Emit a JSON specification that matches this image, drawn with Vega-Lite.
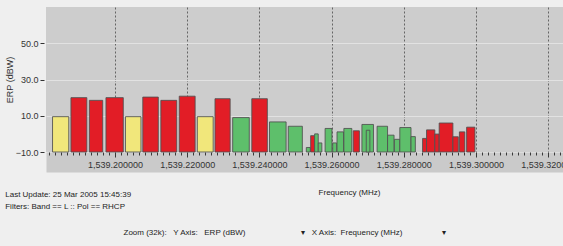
{
  "$schema": "https://vega.github.io/schema/vega-lite/v6.json",
  "width": 517,
  "height": 145,
  "autosize": {"type": "none"},
  "padding": {"left": 46, "top": 7, "right": 0, "bottom": 94},
  "background": "#efefef",
  "config": {
    "view": {"fill": "#cdcdcd", "stroke": null},
    "font": "Liberation Sans"
  },
  "title": {
    "text": "Last Update: 25 Mar 2005 15:45:39",
    "subtitle": "Filters: Band == L :: Pol == RHCP",
    "orient": "bottom",
    "anchor": "start",
    "frame": "bounds",
    "fontSize": 8,
    "fontWeight": "normal",
    "subtitleFontSize": 8,
    "color": "#222",
    "subtitleColor": "#222",
    "subtitlePadding": 4,
    "offset": -45
  },
  "data": {
    "values": [
      {"f0": 1539.1827, "f1": 1539.1872, "erp": 9.5, "status": "warning"},
      {"f0": 1539.1878, "f1": 1539.1922, "erp": 20, "status": "alarm"},
      {"f0": 1539.1929, "f1": 1539.1966, "erp": 18.5, "status": "alarm"},
      {"f0": 1539.1975, "f1": 1539.2023, "erp": 20, "status": "alarm"},
      {"f0": 1539.2029, "f1": 1539.2072, "erp": 9.5, "status": "warning"},
      {"f0": 1539.2077, "f1": 1539.2120, "erp": 20.3, "status": "alarm"},
      {"f0": 1539.2127, "f1": 1539.2171, "erp": 18.5, "status": "alarm"},
      {"f0": 1539.2178, "f1": 1539.2222, "erp": 20.8, "status": "alarm"},
      {"f0": 1539.2228, "f1": 1539.2272, "erp": 9.5, "status": "warning"},
      {"f0": 1539.2277, "f1": 1539.2319, "erp": 19.4, "status": "alarm"},
      {"f0": 1539.2326, "f1": 1539.2372, "erp": 9, "status": "normal"},
      {"f0": 1539.2379, "f1": 1539.2422, "erp": 19.4, "status": "alarm"},
      {"f0": 1539.2428, "f1": 1539.2474, "erp": 6.6, "status": "normal"},
      {"f0": 1539.2480, "f1": 1539.2519, "erp": 4.2, "status": "normal"},
      {"f0": 1539.2530, "f1": 1539.2541, "erp": -7.5, "status": "normal"},
      {"f0": 1539.2542, "f1": 1539.2553, "erp": -1, "status": "alarm"},
      {"f0": 1539.2553, "f1": 1539.2563, "erp": 0, "status": "normal"},
      {"f0": 1539.2563, "f1": 1539.2573, "erp": -5, "status": "normal"},
      {"f0": 1539.2582, "f1": 1539.2601, "erp": 3, "status": "normal"},
      {"f0": 1539.2603, "f1": 1539.2614, "erp": -5, "status": "normal"},
      {"f0": 1539.2615, "f1": 1539.2633, "erp": 1.1, "status": "normal"},
      {"f0": 1539.2634, "f1": 1539.2656, "erp": 3, "status": "normal"},
      {"f0": 1539.2660, "f1": 1539.2677, "erp": 1.7, "status": "alarm"},
      {"f0": 1539.2684, "f1": 1539.2716, "erp": 5.2, "status": "normal"},
      {"f0": 1539.2696, "f1": 1539.2706, "erp": 2, "status": "normal"},
      {"f0": 1539.2726, "f1": 1539.2755, "erp": 4.2, "status": "normal"},
      {"f0": 1539.2755, "f1": 1539.2773, "erp": -0.7, "status": "normal"},
      {"f0": 1539.2774, "f1": 1539.2789, "erp": -3, "status": "normal"},
      {"f0": 1539.2789, "f1": 1539.2820, "erp": 3.5, "status": "normal"},
      {"f0": 1539.2820, "f1": 1539.2832, "erp": -1.5, "status": "normal"},
      {"f0": 1539.2852, "f1": 1539.2863, "erp": -2.5, "status": "alarm"},
      {"f0": 1539.2863, "f1": 1539.2886, "erp": 2.2, "status": "alarm"},
      {"f0": 1539.2886, "f1": 1539.2898, "erp": -0.1, "status": "alarm"},
      {"f0": 1539.2898, "f1": 1539.2936, "erp": 6, "status": "alarm"},
      {"f0": 1539.2936, "f1": 1539.2951, "erp": -1.6, "status": "alarm"},
      {"f0": 1539.2954, "f1": 1539.2969, "erp": 1.1, "status": "alarm"},
      {"f0": 1539.2974, "f1": 1539.2997, "erp": 3.7, "status": "alarm"}
    ]
  },
  "layer": [
    {
      "mark": {"type": "bar", "stroke": "#505050", "strokeWidth": 1, "strokeOpacity": 0.85},
      "encoding": {
        "x": {
          "field": "f0",
          "type": "quantitative",
          "scale": {"domain": [1539.18089, 1539.3241], "nice": false, "zero": false},
          "axis": {
            "orient": "bottom",
            "offset": 10,
            "domain": true,
            "domainWidth": 20,
            "domainColor": "#cacaca",
            "domainCap": "butt",
            "ticks": false,
            "labels": false,
            "grid": false,
            "title": "Zoom (32k):\u00a0\u00a0\u00a0Y Axis:\u00a0\u00a0\u00a0ERP (dBW)\u00a0\u00a0\u00a0\u00a0\u00a0\u00a0\u00a0\u00a0\u00a0\u00a0\u00a0\u00a0\u00a0\u00a0\u00a0\u00a0\u00a0\u00a0\u00a0\u00a0\u00a0\u00a0\u00a0\u00a0\u00a0▾\u00a0\u00a0\u00a0X Axis:\u00a0\u00a0Frequency (MHz)\u00a0\u00a0\u00a0\u00a0\u00a0\u00a0\u00a0\u00a0\u00a0\u00a0\u00a0\u00a0\u00a0\u00a0\u00a0\u00a0\u00a0\u00a0▾",
            "titleX": 77,
            "titleY": 70,
            "titleAlign": "left",
            "titleAnchor": null,
            "titleBaseline": "middle",
            "titleFontSize": 8,
            "titleFontWeight": "normal",
            "titleColor": "#222"
          }
        },
        "x2": {"field": "f1"},
        "y": {
          "field": "erp",
          "type": "quantitative",
          "scale": {"domain": [-10, 70], "nice": false, "zero": false},
          "axis": {
            "values": [-10, 10, 30, 50],
            "format": ".1f",
            "domain": false,
            "tickSize": 4,
            "tickColor": "#333",
            "offset": 2,
            "labelPadding": 2,
            "labelFontSize": 9,
            "labelColor": "#333",
            "grid": true,
            "gridColor": "#e2e2e2",
            "gridOpacity": {"condition": {"test": "datum.value > -10", "value": 1}, "value": 0},
            "title": "ERP (dBW)",
            "titleFontSize": 9,
            "titleFontWeight": "normal",
            "titleColor": "#333",
            "titlePadding": 1
          }
        },
        "y2": {"datum": -10},
        "color": {
          "field": "status",
          "type": "nominal",
          "scale": {"domain": ["normal", "warning", "alarm"], "range": ["#5ebf6b", "#f1e77b", "#e21d26"]},
          "legend": null
        }
      }
    },
    {
      "mark": {"type": "bar", "opacity": 0},
      "encoding": {
        "x": {
          "field": "f0",
          "type": "quantitative",
          "axis": {
            "orient": "bottom",
            "offset": 0,
            "domain": false,
            "values": [1539.181667, 1539.183333, 1539.185, 1539.186667, 1539.188333, 1539.19, 1539.191667, 1539.193333, 1539.195, 1539.196667, 1539.198333, 1539.2,
                       1539.201667, 1539.203333, 1539.205, 1539.206667, 1539.208333, 1539.21, 1539.211667, 1539.213333, 1539.215, 1539.216667, 1539.218333, 1539.22,
                       1539.221667, 1539.223333, 1539.225, 1539.226667, 1539.228333, 1539.23, 1539.231667, 1539.233333, 1539.235, 1539.236667, 1539.238333, 1539.24,
                       1539.241667, 1539.243333, 1539.245, 1539.246667, 1539.248333, 1539.25, 1539.251667, 1539.253333, 1539.255, 1539.256667, 1539.258333, 1539.26,
                       1539.261667, 1539.263333, 1539.265, 1539.266667, 1539.268333, 1539.27, 1539.271667, 1539.273333, 1539.275, 1539.276667, 1539.278333, 1539.28,
                       1539.281667, 1539.283333, 1539.285, 1539.286667, 1539.288333, 1539.29, 1539.291667, 1539.293333, 1539.295, 1539.296667, 1539.298333, 1539.3,
                       1539.301667, 1539.303333, 1539.305, 1539.306667, 1539.308333, 1539.31, 1539.311667, 1539.313333, 1539.315, 1539.316667, 1539.318333, 1539.32,
                       1539.321667, 1539.323333],
            "tickColor": "#3a3a3a",
            "tickSize": {"condition": {"test": "abs(datum.value*50 - round(datum.value*50)) < 0.001", "value": 5}, "value": 3},
            "labelExpr": "abs(datum.value*50 - round(datum.value*50)) < 0.001 ? format(datum.value, ',.6f') : ''",
            "labelOverlap": false,
            "labelBound": false,
            "labelFlush": false,
            "labelPadding": 3,
            "labelFontSize": 9,
            "labelColor": "#333",
            "grid": true,
            "gridColor": "#5a5a5a",
            "gridDash": [2, 2],
            "gridOpacity": {"condition": {"test": "abs(datum.value*50 - round(datum.value*50)) < 0.001", "value": 0.9}, "value": 0},
            "title": "Frequency (MHz)",
            "titleX": 303,
            "titleY": 40,
            "titleAlign": "center",
            "titleAnchor": null,
            "titleBaseline": "middle",
            "titleFontSize": 8,
            "titleFontWeight": "normal",
            "titleColor": "#222"
          }
        },
        "x2": {"field": "f1"},
        "y": {"field": "erp", "type": "quantitative"},
        "y2": {"datum": -10}
      }
    }
  ],
  "resolve": {"axis": {"x": "independent"}}
}
